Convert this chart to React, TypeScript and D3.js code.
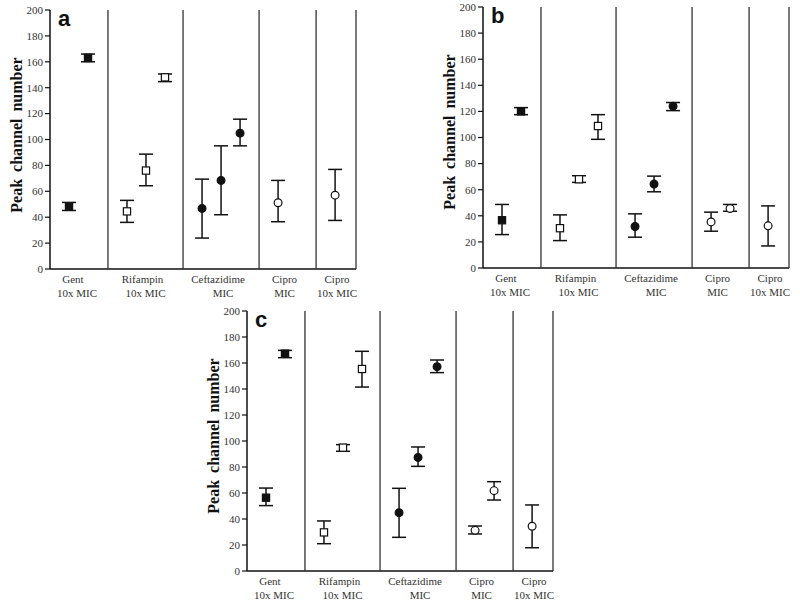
import React from "react";
import * as d3 from "d3";

const panelLetters = ["a", "b", "c"];
const categoryLines = [
  ["Gent", "10x MIC"],
  ["Rifampin", "10x MIC"],
  ["Ceftazidime", "MIC"],
  ["Cipro", "MIC"],
  ["Cipro", "10x MIC"],
];
// group boundaries in slot units (one slot per time point)
const groupBounds = [0, 3.05, 7.0, 11.0, 14.0, 16.1];
const groupMarkers = ["filledSquare", "openSquare", "filledCircle", "openCircle", "openCircle"];
const yTicks = [0, 20, 40, 60, 80, 100, 120, 140, 160, 180, 200];

// [group, timepoint, mean, low, high]
const panelAPoints = [
  [0, 1, 48, 45.2, 51.4], [0, 2, 163, 160, 166],
  [1, 1, 44.5, 36, 53], [1, 2, 76, 64.3, 88.7], [1, 3, 148, 144.7, 150.6],
  [2, 1, 46.8, 23.9, 69.4], [2, 2, 68.4, 41.9, 95.1], [2, 3, 104.9, 95.1, 115.7],
  [3, 1, 51.2, 36.5, 68.4],
  [4, 1, 57, 37.5, 76.9],
];
const panelBPoints = [
  [0, 1, 36.6, 25.6, 48.7], [0, 2, 120, 117.5, 122.9],
  [1, 1, 30.5, 21, 40.7], [1, 2, 68, 65.6, 70.7], [1, 3, 108.8, 98.6, 117.5],
  [2, 1, 31.8, 23.6, 41.5], [2, 2, 64.3, 58.4, 70.4], [2, 3, 124, 120.6, 126.8],
  [3, 1, 35.3, 28.2, 42.8], [3, 2, 45.6, 43.5, 48.7],
  [4, 1, 32.3, 16.9, 47.6],
];
const panelCPoints = [
  [0, 1, 56.4, 50.3, 63.8], [0, 2, 167.2, 164.1, 169.7],
  [1, 1, 29.7, 21, 38.5], [1, 2, 94.9, 92.1, 97.2], [1, 3, 155.4, 141.5, 169],
  [2, 1, 44.9, 25.9, 63.6], [2, 2, 87.4, 80.5, 95.4], [2, 3, 157.2, 152.6, 162.3],
  [3, 1, 31.3, 28.5, 34.6], [3, 2, 61.8, 54.6, 68.7],
  [4, 1, 34.4, 17.9, 50.8],
];
const panelData = [panelAPoints, panelBPoints, panelCPoints];

const panelLayout = [
  { left: 50, top: 10, bottom: 269 },
  { left: 483, top: 7, bottom: 268 },
  { left: 247, top: 311, bottom: 571 },
];
const panelWidth = 306;
const labelShift = [[-6, -2], [-3, 0], [-3, 2], [-3, -3], [1, 1]];

const serif = "'Liberation Serif', 'Times New Roman', serif";
const sans = "'Liberation Sans', Arial, sans-serif";

function Panel({ idx }: { idx: number }) {
  const L = panelLayout[idx];
  const pts = panelData[idx];
  const x = d3.scaleLinear().domain([0, groupBounds[groupBounds.length - 1]]).range([L.left, L.left + panelWidth]);
  const y = d3.scaleLinear().domain([0, 200]).range([L.bottom, L.top]);
  const cap = 7;
  const half = 3.6;
  const stroke = "#111";
  return (
    <g>
      <line x1={L.left} x2={L.left} y1={y(200)} y2={y(0)} stroke={stroke} strokeWidth={1.5} />
      <line x1={L.left} x2={x(groupBounds[5])} y1={y(0)} y2={y(0)} stroke={stroke} strokeWidth={1.5} />
      {yTicks.map((t) => (
        <g key={t}>
          <line x1={L.left - 5} x2={L.left} y1={y(t)} y2={y(t)} stroke={stroke} strokeWidth={1.2} />
          <text x={L.left - 7} y={y(t)} dy="0.35em" textAnchor="end" fontFamily={serif} fontSize={11} fill="#333">
            {t}
          </text>
        </g>
      ))}
      {groupBounds.slice(1).map((b, i) => (
        <line key={i} x1={x(b)} x2={x(b)} y1={y(200)} y2={y(0)} stroke="#333" strokeWidth={1.3} />
      ))}
      {categoryLines.map((lines, g) => {
        const cx = (x(groupBounds[g]) + x(groupBounds[g + 1])) / 2;
        return (
          <g key={g}>
            <text x={cx + labelShift[g][0]} y={L.bottom + 14} textAnchor="middle" fontFamily={serif} fontSize={11} fill="#333">
              {lines[0]}
            </text>
            <text x={cx + labelShift[g][1]} y={L.bottom + 28} textAnchor="middle" fontFamily={serif} fontSize={11} fill="#333">
              {lines[1]}
            </text>
          </g>
        );
      })}
      <text
        transform={`translate(${L.left - 34},${L.top + 125}) rotate(-90)`}
        textAnchor="middle"
        dy="0.35em"
        fontFamily={serif}
        fontWeight="bold"
        fontSize={16}
        wordSpacing={3}
        fill="#111"
      >
        Peak channel number
      </text>
      <text x={L.left + 8} y={L.top + 16} fontFamily={sans} fontWeight="bold" fontSize={22} fill="#111">
        {panelLetters[idx]}
      </text>
      {pts.map((p, i) => {
        const px = x(groupBounds[p[0]] + p[1]);
        return (
          <g key={"e" + i} stroke={stroke} strokeWidth={1.5}>
            <line x1={px} x2={px} y1={y(p[3])} y2={y(p[4])} />
            <line x1={px - cap} x2={px + cap} y1={y(p[3])} y2={y(p[3])} />
            <line x1={px - cap} x2={px + cap} y1={y(p[4])} y2={y(p[4])} />
          </g>
        );
      })}
      {pts.map((p, i) => {
        const px = x(groupBounds[p[0]] + p[1]);
        const py = y(p[2]);
        const m = groupMarkers[p[0]];
        const filled = m.startsWith("filled");
        if (m.endsWith("Square")) {
          return (
            <rect key={"m" + i} x={px - half} y={py - half} width={half * 2} height={half * 2}
              fill={filled ? "#111" : "#fff"} stroke={stroke} strokeWidth={1.2} />
          );
        }
        return <circle key={"m" + i} cx={px} cy={py} r={3.9} fill={filled ? "#111" : "#fff"} stroke={stroke} strokeWidth={1.2} />;
      })}
    </g>
  );
}

export default function App() {
  return (
    <svg width={800} height={608} style={{ position: "absolute", left: 0, top: 0, background: "#fff" }}>
      <rect width={800} height={608} fill="#fff" />
      {panelLetters.map((_, i) => (
        <Panel key={i} idx={i} />
      ))}
    </svg>
  );
}
